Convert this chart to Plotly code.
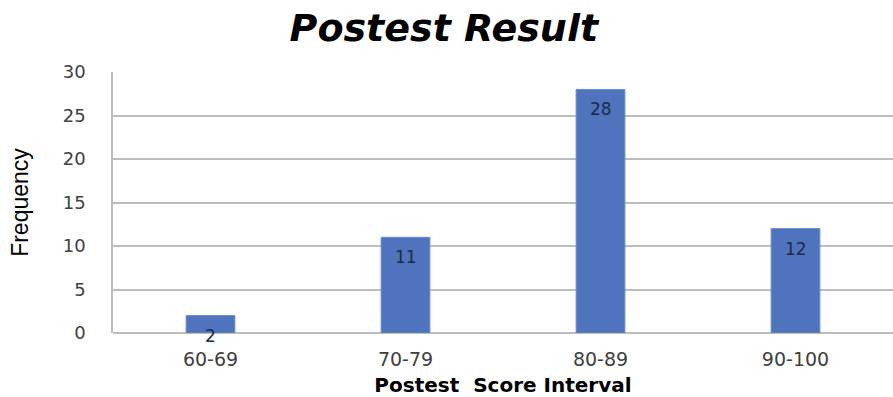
import plotly.graph_objects as go

categories = ["60-69", "70-79", "80-89", "90-100"]
frequency = [2, 11, 28, 12]
y_ticks = [0, 5, 10, 15, 20, 25, 30]

BAR = "#4F73BD"
GRID = "#BDBDBD"
TXT = "#404040"
FONT = "DejaVu Sans, Liberation Sans, Arial, sans-serif"

fig = go.Figure()
fig.add_trace(go.Bar(
    x=categories, y=frequency, width=0.25,
    marker=dict(color=BAR, line=dict(color="#6A8BD0", width=1)),
    hoverinfo="x+y", showlegend=False,
))

for c, v in zip(categories, frequency):
    fig.add_annotation(x=c, y=v, text=str(v), showarrow=False,
                       xref="x", yref="y", yanchor="middle", yshift=-20,
                       font=dict(family=FONT, size=17, color="#1E2A45"))

fig.update_layout(
    width=893, height=397,
    margin=dict(l=113, r=0, t=72, b=64),
    paper_bgcolor="white", plot_bgcolor="white",
    title=dict(text="<b><i>Postest Result</i></b>", x=0.497, xanchor="center",
               y=1 - 28 / 397, yanchor="middle", yref="container",
               font=dict(family=FONT, size=38, color="black")),
    bargap=0.75,
)
fig.update_xaxes(
    range=[-0.5, 3.5], showgrid=False, ticks="", ticklabelstandoff=13,
    tickfont=dict(family=FONT, size=19, color=TXT),
    title=dict(text="<b>Postest  Score Interval</b>", standoff=8,
               font=dict(family=FONT, size=20, color="black")),
    showline=False, zeroline=False,
)
fig.update_yaxes(
    range=[0, 30], tickvals=y_ticks, showgrid=True, gridcolor=GRID, gridwidth=1.5,
    zeroline=True, zerolinecolor=GRID, zerolinewidth=1.5,
    showline=True, linecolor=GRID, linewidth=1.5, mirror=False,
    ticks="", ticklabelstandoff=22,
    tickfont=dict(family=FONT, size=18, color=TXT),
    title=dict(text="Frequency", standoff=28,
               font=dict(family="Liberation Sans, Arial, sans-serif", size=23, color="black")),
)

fig.write_html("out.html")
